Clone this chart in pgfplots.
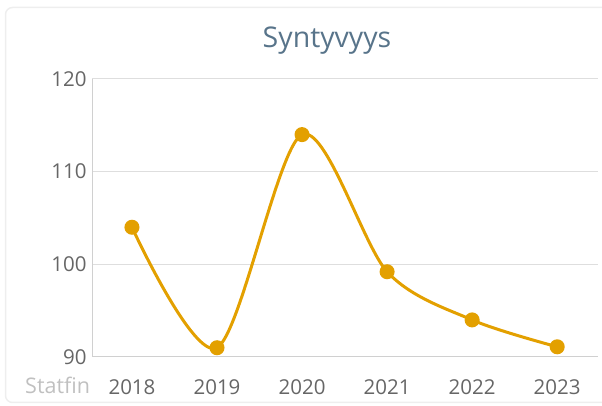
\documentclass[border=0pt]{standalone}
\usepackage{fontspec}
\setmainfont{Open Sans}
\usepackage{pgfplots}
\pgfplotsset{compat=1.18}
\definecolor{lineor}{RGB}{227,160,0}
\definecolor{titleblue}{RGB}{88,116,138}
\definecolor{ticklab}{RGB}{102,102,102}
\definecolor{gridc}{RGB}{222,222,222}
\definecolor{axisc}{RGB}{208,208,208}
\definecolor{srcc}{RGB}{192,192,192}
\definecolor{cardc}{RGB}{238,238,238}

\begin{document}
\begin{tikzpicture}[x=1pt,y=1pt]
  \useasboundingbox (0,0) rectangle (602,406);
  % card outline
  \draw[cardc, line width=1.5pt, rounded corners=7pt] (5.5,3.5) rectangle (625,398.5);
  % title and source
  \node[anchor=base, inner sep=0, text=titleblue, font=\fontsize{28.5}{32}\selectfont] at (327,358) {Syntyvyys};
  \node[anchor=base west, inner sep=0, text=srcc, font=\fontsize{21.5}{25}\selectfont] at (25,12) {Statfin};
  \begin{axis}[
      at={(92pt,49pt)}, anchor=south west,
      scale only axis, width=506pt, height=278pt,
      xmin=-0.47, xmax=5.48,
      ymin=90, ymax=120,
      xtick={0,1,2,3,4,5},
      xticklabels={2018,2019,2020,2021,2022,2023},
      ytick={90,100,110,120},
      /pgf/number format/assume math mode=true,
      ymajorgrids,
      grid style={gridc, line width=1pt},
      axis x line*=bottom,
      axis y line*=left,
      axis line style={axisc, line width=1pt, -},
      major tick length=0pt,
      tick label style={text=ticklab, font=\fontsize{20.5}{24}\selectfont},
      xticklabel style={yshift=-19pt},
      yticklabel style={xshift=-2pt},
      clip=false,
    ]
    \addplot[lineor, line width=3pt, smooth, tension=0.5,
             mark=*, mark size=6pt, mark options={solid, fill=lineor, draw=none}]
      coordinates {
        (0,104.0)
        (1,91.0)
        (2,114.0)
        (3,99.2)
        (4,94.0)
        (5,91.1)
      };
  \end{axis}
\end{tikzpicture}
\end{document}
